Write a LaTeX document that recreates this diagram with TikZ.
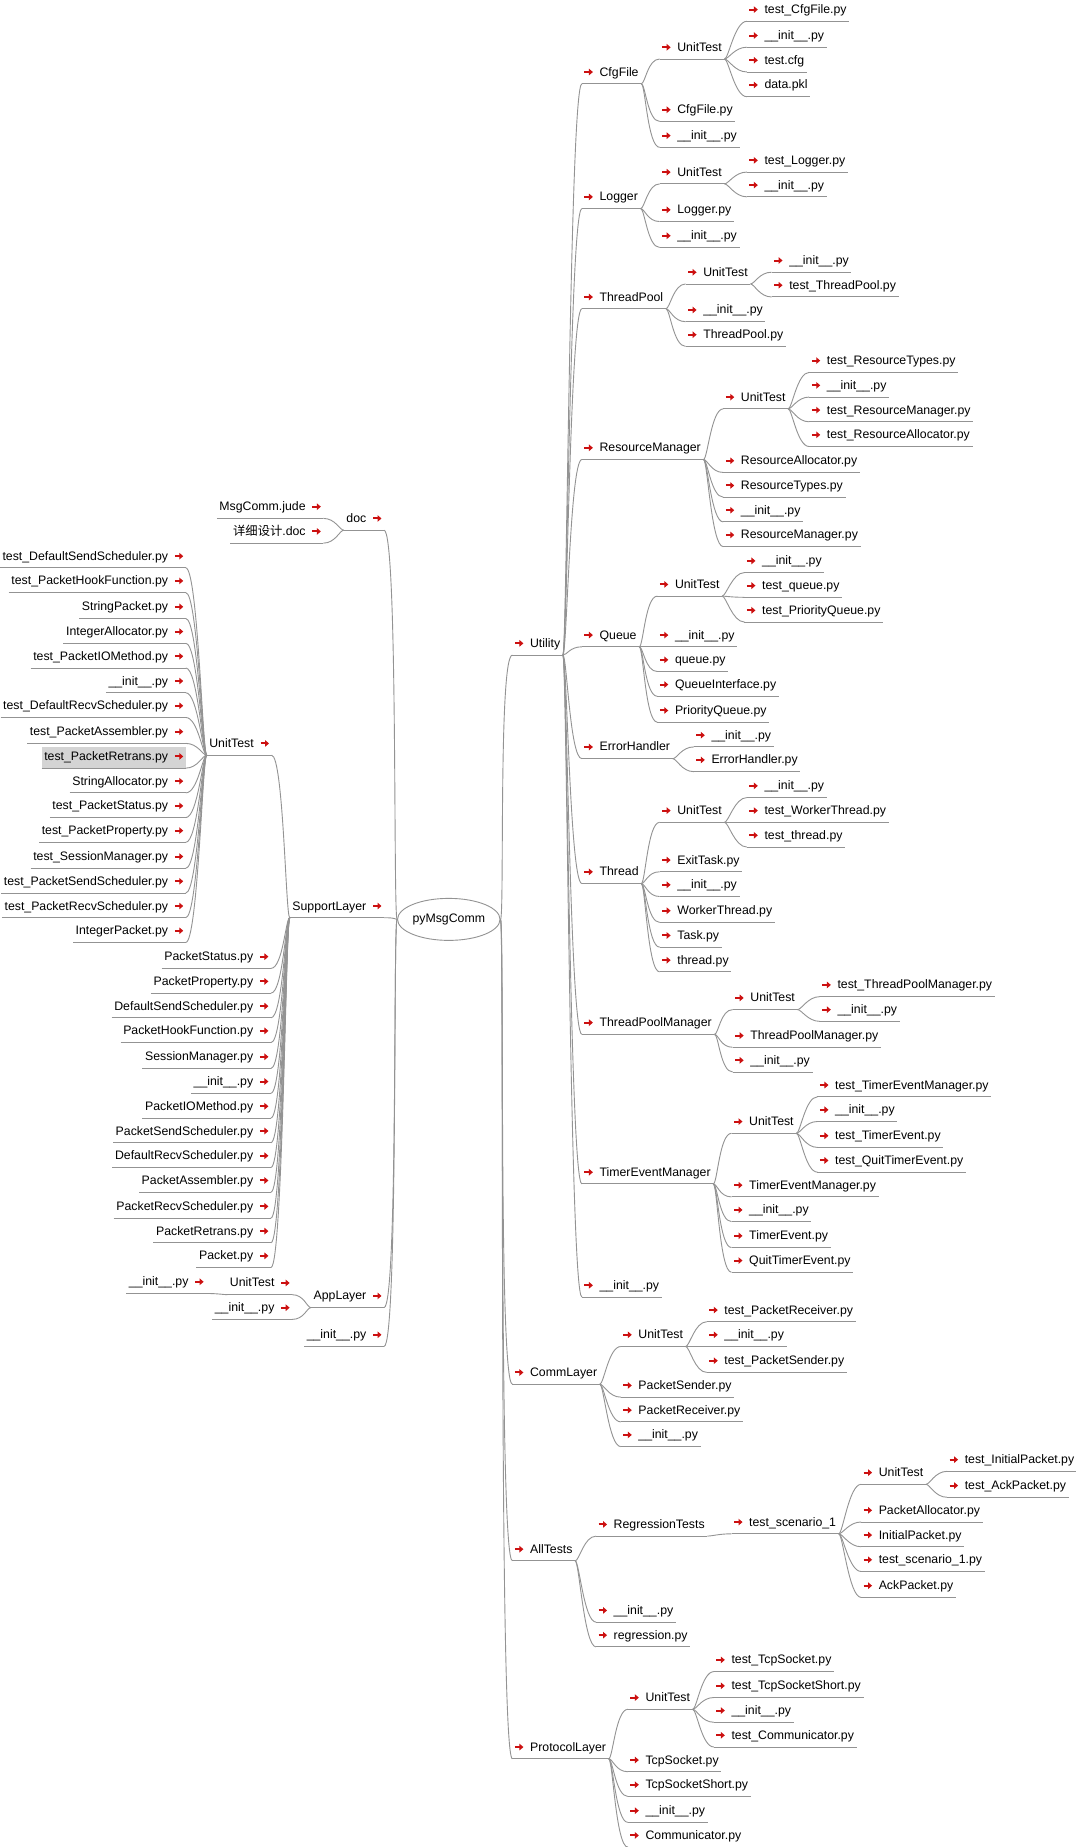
\documentclass[tikz,border=0pt]{standalone}
\usepackage{fontspec}
\setmainfont{Liberation Sans}
\newfontfamily\cjkfont{Noto Sans CJK SC}
\usepackage{tikz}
\usetikzlibrary{shapes.geometric,arrows.meta}

% voce a destra: nome, padre, x, y, testo
\newcommand\ritm[5]{%
  \node[ritem] (#1) at (#3,#4) {\kern15pt#5};
  \draw[arrw] ([xshift=2.5pt,yshift=1pt]#1.west) -- ++(8.5pt,0);
  \draw[uline] (#1.south west) -- (#1.south east);
  \draw[link] (#2.south east) to[out=0,in=180,out distance=4pt,in distance=12pt] (#1.south west);}
% voce a sinistra: [opzioni], nome, padre, x, y, testo
\newcommand\litm[6][]{%
  \node[litem,#1] (#2) at (#4,#5) {#6\kern15pt};
  \draw[arrw] ([xshift=-11pt,yshift=1pt]#2.east) -- ++(8.5pt,0);
  \draw[uline] (#2.south west) -- (#2.south east);
  \draw[link] (#3.south west) to[out=180,in=0,out distance=4pt,in distance=12pt] (#2.south east);}

\begin{document}
\begin{tikzpicture}[x=1.1775pt, y=-1.1775pt,
  item/.style={font=\fontsize{12.3}{14}\selectfont, inner xsep=2.5pt, inner ysep=4.5pt, text height=9pt, text depth=3pt},
  ritem/.style={item, anchor=west},
  litem/.style={item, anchor=east},
  arrw/.style={draw=arrRed, line width=2pt, -{Triangle[length=4pt,width=6.5pt]}},
  uline/.style={draw=lineGray, line width=0.9pt},
  link/.style={draw=lineGray, line width=0.9pt}]

% Colori
\definecolor{lineGray}{HTML}{939393}
\definecolor{arrRed}{HTML}{CC1010}
\definecolor{hlGray}{HTML}{D4D4D4}

% Sfondo e margini
\fill[white] (0,0) rectangle (913,1568);
\useasboundingbox (0,0) rectangle (913,1568);

% Radice
\node[draw=lineGray, line width=0.9pt, ellipse, minimum width=86pt, minimum height=42pt, inner sep=0pt,
      font=\fontsize{12.3}{14}\selectfont] (root) at (381,780.5) {pyMsgComm};

% ---------------- Lato destro ----------------
\node[ritem] (ut) at (435,547) {\kern15pt Utility};
\draw[arrw] ([xshift=2.5pt,yshift=1pt]ut.west) -- ++(8.5pt,0);
\draw[uline] (ut.south west) -- (ut.south east);
\node[ritem] (cl) at (435,1166) {\kern15pt CommLayer};
\draw[arrw] ([xshift=2.5pt,yshift=1pt]cl.west) -- ++(8.5pt,0);
\draw[uline] (cl.south west) -- (cl.south east);
\node[ritem] (at) at (435,1316) {\kern15pt AllTests};
\draw[arrw] ([xshift=2.5pt,yshift=1pt]at.west) -- ++(8.5pt,0);
\draw[uline] (at.south west) -- (at.south east);
\node[ritem] (pl) at (435,1484) {\kern15pt ProtocolLayer};
\draw[arrw] ([xshift=2.5pt,yshift=1pt]pl.west) -- ++(8.5pt,0);
\draw[uline] (pl.south west) -- (pl.south east);
\draw[link] (root.east) to[out=0,in=180,out distance=4pt,in distance=14pt] (ut.south west);
\draw[link] (root.east) to[out=0,in=180,out distance=4pt,in distance=14pt] (cl.south west);
\draw[link] (root.east) to[out=0,in=180,out distance=4pt,in distance=14pt] (at.south west);
\draw[link] (root.east) to[out=0,in=180,out distance=4pt,in distance=14pt] (pl.south west);

% Utility
\ritm{cfg}{ut}{494}{62}{CfgFile}
\ritm{cfgU}{cfg}{560}{41}{UnitTest}
\ritm{cfgUa}{cfgU}{634}{9}{test\_CfgFile.py}
\ritm{cfgUb}{cfgU}{634}{31}{\_\_init\_\_.py}
\ritm{cfgUc}{cfgU}{634}{52}{test.cfg}
\ritm{cfgUd}{cfgU}{634}{73}{data.pkl}
\ritm{cfgA}{cfg}{560}{94}{CfgFile.py}
\ritm{cfgB}{cfg}{560}{116}{\_\_init\_\_.py}

\ritm{log}{ut}{494}{168}{Logger}
\ritm{logU}{log}{560}{147}{UnitTest}
\ritm{logUa}{logU}{634}{137}{test\_Logger.py}
\ritm{logUb}{logU}{634}{158}{\_\_init\_\_.py}
\ritm{logA}{log}{560}{179}{Logger.py}
\ritm{logB}{log}{560}{201}{\_\_init\_\_.py}

\ritm{tp}{ut}{494}{253}{ThreadPool}
\ritm{tpU}{tp}{582}{232}{UnitTest}
\ritm{tpUa}{tpU}{655}{222}{\_\_init\_\_.py}
\ritm{tpUb}{tpU}{655}{243}{test\_ThreadPool.py}
\ritm{tpA}{tp}{582}{264}{\_\_init\_\_.py}
\ritm{tpB}{tp}{582}{285}{ThreadPool.py}

\ritm{rm}{ut}{494}{381}{ResourceManager}
\ritm{rmU}{rm}{614}{338}{UnitTest}
\ritm{rmUa}{rmU}{687}{307}{test\_ResourceTypes.py}
\ritm{rmUb}{rmU}{687}{328}{\_\_init\_\_.py}
\ritm{rmUc}{rmU}{687}{349}{test\_ResourceManager.py}
\ritm{rmUd}{rmU}{687}{370}{test\_ResourceAllocator.py}
\ritm{rmA}{rm}{614}{392}{ResourceAllocator.py}
\ritm{rmB}{rm}{614}{413}{ResourceTypes.py}
\ritm{rmC}{rm}{614}{434}{\_\_init\_\_.py}
\ritm{rmD}{rm}{614}{455}{ResourceManager.py}

\ritm{q}{ut}{494}{540}{Queue}
\ritm{qU}{q}{558}{497}{UnitTest}
\ritm{qUa}{qU}{632}{477}{\_\_init\_\_.py}
\ritm{qUb}{qU}{632}{498}{test\_queue.py}
\ritm{qUc}{qU}{632}{519}{test\_PriorityQueue.py}
\ritm{qA}{q}{558}{540}{\_\_init\_\_.py}
\ritm{qB}{q}{558}{561}{queue.py}
\ritm{qC}{q}{558}{582}{QueueInterface.py}
\ritm{qD}{q}{558}{604}{PriorityQueue.py}

\ritm{eh}{ut}{494}{635}{ErrorHandler}
\ritm{ehA}{eh}{589}{625}{\_\_init\_\_.py}
\ritm{ehB}{eh}{589}{646}{ErrorHandler.py}

\ritm{th}{ut}{494}{741}{Thread}
\ritm{thU}{th}{560}{689}{UnitTest}
\ritm{thUa}{thU}{634}{668}{\_\_init\_\_.py}
\ritm{thUb}{thU}{634}{689}{test\_WorkerThread.py}
\ritm{thUc}{thU}{634}{710}{test\_thread.py}
\ritm{thA}{th}{560}{731}{ExitTask.py}
\ritm{thB}{th}{560}{752}{\_\_init\_\_.py}
\ritm{thC}{th}{560}{774}{WorkerThread.py}
\ritm{thD}{th}{560}{795}{Task.py}
\ritm{thE}{th}{560}{816}{thread.py}

\ritm{tpm}{ut}{494}{869}{ThreadPoolManager}
\ritm{tpmU}{tpm}{622}{848}{UnitTest}
\ritm{tpmUa}{tpmU}{696}{837}{test\_ThreadPoolManager.py}
\ritm{tpmUb}{tpmU}{696}{858}{\_\_init\_\_.py}
\ritm{tpmA}{tpm}{622}{880}{ThreadPoolManager.py}
\ritm{tpmB}{tpm}{622}{901}{\_\_init\_\_.py}

\ritm{tem}{ut}{494}{996}{TimerEventManager}
\ritm{temU}{tem}{621}{953}{UnitTest}
\ritm{temUa}{temU}{694}{922}{test\_TimerEventManager.py}
\ritm{temUb}{temU}{694}{943}{\_\_init\_\_.py}
\ritm{temUc}{temU}{694}{965}{test\_TimerEvent.py}
\ritm{temUd}{temU}{694}{986}{test\_QuitTimerEvent.py}
\ritm{temA}{tem}{621}{1007}{TimerEventManager.py}
\ritm{temB}{tem}{621}{1028}{\_\_init\_\_.py}
\ritm{temC}{tem}{621}{1050}{TimerEvent.py}
\ritm{temD}{tem}{621}{1071}{QuitTimerEvent.py}

\ritm{utI}{ut}{494}{1092}{\_\_init\_\_.py}

% CommLayer
\ritm{clU}{cl}{527}{1134}{UnitTest}
\ritm{clUa}{clU}{600}{1113}{test\_PacketReceiver.py}
\ritm{clUb}{clU}{600}{1134}{\_\_init\_\_.py}
\ritm{clUc}{clU}{600}{1156}{test\_PacketSender.py}
\ritm{clA}{cl}{527}{1177}{PacketSender.py}
\ritm{clB}{cl}{527}{1198}{PacketReceiver.py}
\ritm{clC}{cl}{527}{1219}{\_\_init\_\_.py}

% AllTests
\ritm{rt}{at}{506}{1295}{RegressionTests}
\ritm{ts}{rt}{621}{1293}{test\_scenario\_1}
\ritm{tsU}{ts}{731}{1251}{UnitTest}
\ritm{tsUa}{tsU}{804}{1240}{test\_InitialPacket.py}
\ritm{tsUb}{tsU}{804}{1262}{test\_AckPacket.py}
\ritm{tsA}{ts}{731}{1283}{PacketAllocator.py}
\ritm{tsB}{ts}{731}{1304}{InitialPacket.py}
\ritm{tsC}{ts}{731}{1325}{test\_scenario\_1.py}
\ritm{tsD}{ts}{731}{1347}{AckPacket.py}
\ritm{atA}{at}{506}{1368}{\_\_init\_\_.py}
\ritm{atB}{at}{506}{1389}{regression.py}

% ProtocolLayer
\ritm{plU}{pl}{533}{1442}{UnitTest}
\ritm{plUa}{plU}{606}{1410}{test\_TcpSocket.py}
\ritm{plUb}{plU}{606}{1432}{test\_TcpSocketShort.py}
\ritm{plUc}{plU}{606}{1453}{\_\_init\_\_.py}
\ritm{plUd}{plU}{606}{1474}{test\_Communicator.py}
\ritm{plA}{pl}{533}{1495}{TcpSocket.py}
\ritm{plB}{pl}{533}{1516}{TcpSocketShort.py}
\ritm{plC}{pl}{533}{1538}{\_\_init\_\_.py}
\ritm{plD}{pl}{533}{1559}{Communicator.py}

% ---------------- Lato sinistro ----------------
\node[litem] (doc) at (326,441) {doc\kern15pt};
\draw[arrw] ([xshift=-11pt,yshift=1pt]doc.east) -- ++(8.5pt,0);
\draw[uline] (doc.south west) -- (doc.south east);
\node[litem] (sl) at (326,770) {SupportLayer\kern15pt};
\draw[arrw] ([xshift=-11pt,yshift=1pt]sl.east) -- ++(8.5pt,0);
\draw[uline] (sl.south west) -- (sl.south east);
\node[litem] (al) at (326,1101) {AppLayer\kern15pt};
\draw[arrw] ([xshift=-11pt,yshift=1pt]al.east) -- ++(8.5pt,0);
\draw[uline] (al.south west) -- (al.south east);
\node[litem] (rootI) at (326,1134) {\_\_init\_\_.py\kern15pt};
\draw[arrw] ([xshift=-11pt,yshift=1pt]rootI.east) -- ++(8.5pt,0);
\draw[uline] (rootI.south west) -- (rootI.south east);
\draw[link] (root.west) to[out=180,in=0,out distance=4pt,in distance=14pt] (doc.south east);
\draw[link] (root.west) to[out=180,in=0,out distance=4pt,in distance=14pt] (sl.south east);
\draw[link] (root.west) to[out=180,in=0,out distance=4pt,in distance=14pt] (al.south east);
\draw[link] (root.west) to[out=180,in=0,out distance=4pt,in distance=14pt] (rootI.south east);

% doc
\litm{docA}{doc}{274.5}{431}{MsgComm.jude}
\litm{docB}{doc}{274.5}{452}{{\cjkfont 详细设计}.doc}

% SupportLayer / UnitTest
\litm{slU}{sl}{230.5}{632}{UnitTest}
\litm{slUa}{slU}{157.7}{473}{test\_DefaultSendScheduler.py}
\litm{slUb}{slU}{157.7}{494}{test\_PacketHookFunction.py}
\litm{slUc}{slU}{157.7}{516}{StringPacket.py}
\litm{slUd}{slU}{157.7}{537}{IntegerAllocator.py}
\litm{slUe}{slU}{157.7}{558}{test\_PacketIOMethod.py}
\litm{slUf}{slU}{157.7}{579}{\_\_init\_\_.py}
\litm{slUg}{slU}{157.7}{600}{test\_DefaultRecvScheduler.py}
\litm{slUh}{slU}{157.7}{622}{test\_PacketAssembler.py}
\litm[fill=hlGray]{slUi}{slU}{157.7}{643}{test\_PacketRetrans.py}
\litm{slUj}{slU}{157.7}{664}{StringAllocator.py}
\litm{slUk}{slU}{157.7}{685}{test\_PacketStatus.py}
\litm{slUl}{slU}{157.7}{706}{test\_PacketProperty.py}
\litm{slUm}{slU}{157.7}{728}{test\_SessionManager.py}
\litm{slUn}{slU}{157.7}{749}{test\_PacketSendScheduler.py}
\litm{slUo}{slU}{157.7}{770}{test\_PacketRecvScheduler.py}
\litm{slUp}{slU}{157.7}{791}{IntegerPacket.py}

% SupportLayer / moduli
\litm{slA}{sl}{230}{813}{PacketStatus.py}
\litm{slB}{sl}{230}{834}{PacketProperty.py}
\litm{slC}{sl}{230}{855}{DefaultSendScheduler.py}
\litm{slD}{sl}{230}{876}{PacketHookFunction.py}
\litm{slE}{sl}{230}{898}{SessionManager.py}
\litm{slF}{sl}{230}{919}{\_\_init\_\_.py}
\litm{slG}{sl}{230}{940}{PacketIOMethod.py}
\litm{slH}{sl}{230}{961}{PacketSendScheduler.py}
\litm{slI}{sl}{230}{982}{DefaultRecvScheduler.py}
\litm{slJ}{sl}{230}{1003}{PacketAssembler.py}
\litm{slK}{sl}{230}{1025}{PacketRecvScheduler.py}
\litm{slL}{sl}{230}{1046}{PacketRetrans.py}
\litm{slM}{sl}{230}{1067}{Packet.py}

% AppLayer
\litm{alU}{al}{248}{1090}{UnitTest}
\litm{alUa}{alU}{175}{1089}{\_\_init\_\_.py}
\litm{alA}{al}{248}{1111}{\_\_init\_\_.py}

\end{tikzpicture}
\end{document}
